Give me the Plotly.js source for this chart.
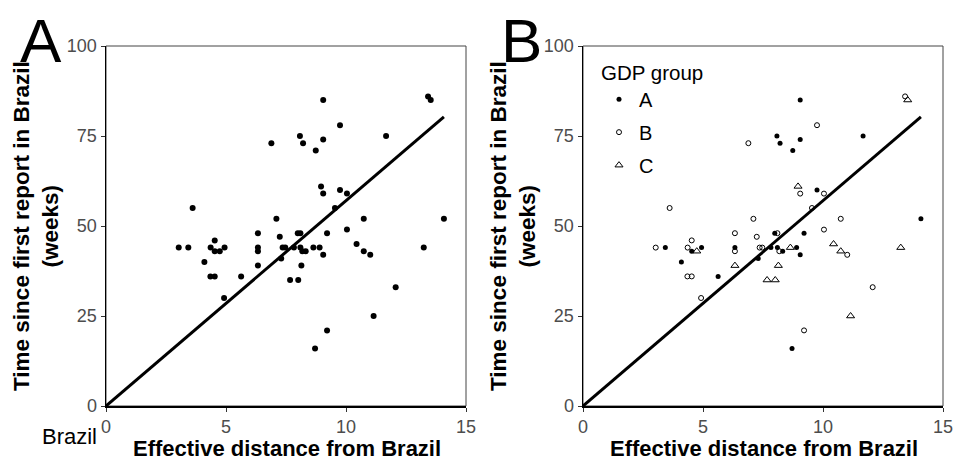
<!DOCTYPE html>
<html>
<head>
<meta charset="utf-8">
<script src="https://cdn.plot.ly/plotly-3.0.1.min.js"></script>
<style>
html,body{margin:0;padding:0;background:#fff;}
#chart{width:955px;height:460px;}
</style>
</head>
<body>
<div id="chart"></div>
<script>
// GDP group A (filled circles)
const groupA_x = [9.05, 8.08, 8.21, 9.05, 8.74, 11.67, 9.75, 14.08, 7.99, 9.21, 3.43, 4.94, 6.33, 7.83, 8.10, 8.90, 4.53, 8.32, 9.05, 7.30, 4.10, 5.63, 8.71];
const groupA_y = [85, 75, 73, 74, 71, 75, 60, 52, 48, 48, 44, 44, 44, 44, 44, 44, 43, 43, 42, 41, 40, 36, 16];
// GDP group B (open circles)
const groupB_x = [13.42, 9.75, 6.89, 9.05, 10.04, 9.54, 3.61, 7.10, 10.74, 10.04, 6.33, 8.10, 7.24, 4.53, 3.03, 4.36, 7.36, 7.47, 6.33, 8.18, 11.01, 4.35, 4.53, 12.07, 4.92, 9.21];
const groupB_y = [86, 78, 73, 59, 59, 55, 55, 52, 52, 49, 48, 48, 47, 46, 44, 44, 44, 44, 43, 43, 42, 36, 36, 33, 30, 21];
// GDP group C (open triangles)
const groupC_x = [13.53, 8.96, 10.44, 8.64, 13.24, 4.74, 10.74, 6.33, 8.14, 7.67, 8.01, 11.15];
const groupC_y = [85, 61, 45, 44, 44, 43, 43, 39, 39, 35, 35, 25];
// reference line
const fitLine_x = [0, 14.08];
const fitLine_y = [0, 80.3];
const groupNames = ["A", "B", "C"];
const yTicks = [0, 25, 50, 75, 100];
const xTicks = [0, 5, 10, 15];

const FONT = "Liberation Sans, Arial, sans-serif";
const allX = groupA_x.concat(groupB_x, groupC_x);
const allY = groupA_y.concat(groupB_y, groupC_y);

const traces = [
  {x: fitLine_x, y: fitLine_y, xaxis: 'x', yaxis: 'y', mode: 'lines', line: {color: '#000', width: 3}, showlegend: false, hoverinfo: 'skip'},
  {x: allX, y: allY, xaxis: 'x', yaxis: 'y', mode: 'markers', marker: {color: '#000', size: 6}, showlegend: false},
  {x: fitLine_x, y: fitLine_y, xaxis: 'x2', yaxis: 'y2', mode: 'lines', line: {color: '#000', width: 3}, showlegend: false, hoverinfo: 'skip'},
  {x: groupA_x, y: groupA_y, xaxis: 'x2', yaxis: 'y2', mode: 'markers', name: groupNames[0], legendgroup: 'a',
   marker: {symbol: 'circle', color: '#000', size: 5}},
  {x: groupB_x, y: groupB_y, xaxis: 'x2', yaxis: 'y2', mode: 'markers', name: groupNames[1], legendgroup: 'b',
   marker: {symbol: 'circle-open', color: '#000', size: 5, line: {width: 1}}},
  {x: groupC_x, y: groupC_y, xaxis: 'x2', yaxis: 'y2', mode: 'markers', name: groupNames[2], legendgroup: 'c',
   marker: {symbol: 'triangle-up-open', color: '#000', size: 7, line: {width: 1}}}
];

const W = 955, H = 460;
const yDom = [(H - 406) / H, (H - 46) / H];
function xax(dom) {
  return {
    domain: dom, range: [0, 15], tickvals: xTicks, ticks: 'outside', ticklen: 4, tickwidth: 1, tickcolor: '#333',
    showgrid: false, zeroline: false, showline: true, linecolor: '#000', linewidth: 1.5,
    tickfont: {family: FONT, size: 18, color: '#4d4d4d'}, fixedrange: true
  };
}
function yax(anchor) {
  return {
    domain: yDom, range: [0, 100], tickvals: yTicks, ticks: 'outside', ticklen: 4, tickwidth: 1, tickcolor: '#333',
    showgrid: false, zeroline: false, showline: true, linecolor: '#000', linewidth: 1.5, anchor: anchor,
    tickfont: {family: FONT, size: 18, color: '#4d4d4d'}, fixedrange: true
  };
}

const layout = {
  width: W, height: H,
  margin: {l: 0, r: 0, t: 0, b: 0},
  paper_bgcolor: '#fff', plot_bgcolor: '#fff',
  font: {family: FONT, color: '#000'},
  xaxis: Object.assign(xax([106 / W, 466 / W]), {anchor: 'y'}),
  yaxis: yax('x'),
  xaxis2: Object.assign(xax([583 / W, 943 / W]), {anchor: 'y2'}),
  yaxis2: yax('x2'),
  showlegend: true,
  legend: {
    x: 599 / W, y: (H - 53) / H, xanchor: 'left', yanchor: 'top',
    bgcolor: 'rgba(0,0,0,0)', font: {family: FONT, size: 20, color: '#000'},
    title: {text: 'GDP group', font: {family: FONT, size: 20.5, color: '#000'}},
    traceorder: 'grouped', tracegroupgap: 4
  },
  shapes: [
    {type: 'rect', xref: 'x domain', yref: 'y domain', x0: 0, x1: 1, y0: 0, y1: 1, line: {color: '#444', width: 1}, layer: 'below'},
    {type: 'rect', xref: 'x2 domain', yref: 'y2 domain', x0: 0, x1: 1, y0: 0, y1: 1, line: {color: '#444', width: 1}, layer: 'below'}
  ],
  annotations: [
    {text: 'A', xref: 'paper', yref: 'paper', x: 41 / W, y: (H - 40) / H, xanchor: 'center', yanchor: 'middle', showarrow: false,
     font: {family: FONT, size: 62, color: '#000'}},
    {text: 'B', xref: 'paper', yref: 'paper', x: 521 / W, y: (H - 40) / H, xanchor: 'center', yanchor: 'middle', showarrow: false,
     font: {family: FONT, size: 62, color: '#000'}},
    {text: '<b>Time since first report in Brazil</b><br><b>(weeks)</b>', xref: 'paper', yref: 'paper', x: 36 / W, y: (H - 226) / H,
     xanchor: 'center', yanchor: 'middle', textangle: -90, showarrow: false, font: {family: FONT, size: 22.5, color: '#000'}},
    {text: '<b>Time since first report in Brazil</b><br><b>(weeks)</b>', xref: 'paper', yref: 'paper', x: 513 / W, y: (H - 226) / H,
     xanchor: 'center', yanchor: 'middle', textangle: -90, showarrow: false, font: {family: FONT, size: 22.5, color: '#000'}},
    {text: '<b>Effective distance from Brazil</b>', xref: 'paper', yref: 'paper', x: 287 / W, y: 0, yshift: -3,
     xanchor: 'center', yanchor: 'bottom', showarrow: false, font: {family: FONT, size: 22, color: '#000'}},
    {text: '<b>Effective distance from Brazil</b>', xref: 'paper', yref: 'paper', x: 764 / W, y: 0, yshift: -3,
     xanchor: 'center', yanchor: 'bottom', showarrow: false, font: {family: FONT, size: 22, color: '#000'}},
    {text: 'Brazil', xref: 'paper', yref: 'paper', x: 69 / W, y: (H - 436) / H,
     xanchor: 'center', yanchor: 'middle', showarrow: false, font: {family: FONT, size: 22, color: '#000'}}
  ]
};

Plotly.newPlot('chart', traces, layout, {staticPlot: true, displayModeBar: false});
</script>
</body>
</html>
